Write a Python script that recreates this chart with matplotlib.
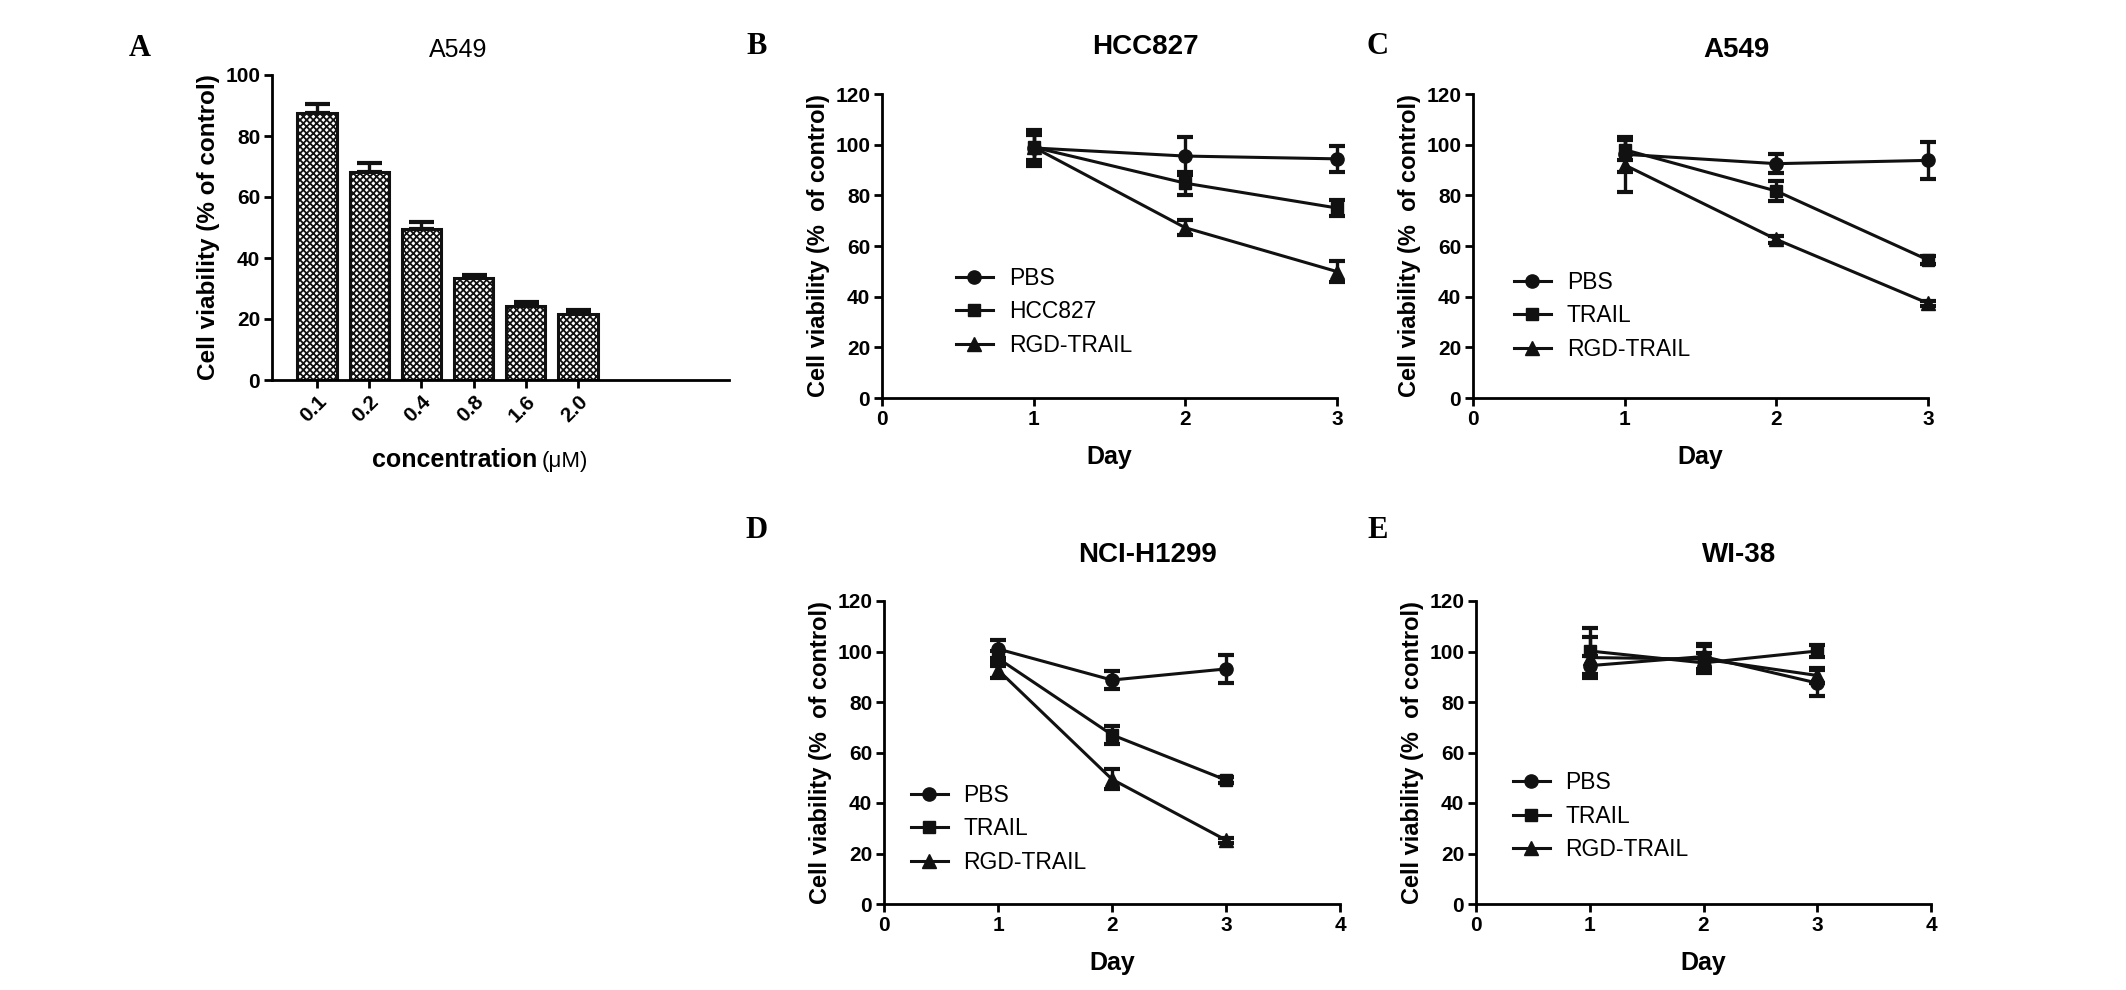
import matplotlib
matplotlib.use("Agg")
import matplotlib.pyplot as plt
import numpy as np
from matplotlib import font_manager

# fonte estreita se existir (o original parece Arial comprimida)
names = {f.name for f in font_manager.fontManager.ttflist}
sans = "Liberation Sans Narrow" if "Liberation Sans Narrow" in names else "Liberation Sans"
plt.rcParams["font.family"] = [sans, "DejaVu Sans"]
plt.rcParams["hatch.linewidth"] = 1.3
regular = ["Liberation Sans", "DejaVu Sans"]

# ---- dados do painel A (barras) ----
conc_labels = ["0.1", "0.2", "0.4", "0.8", "1.6", "2.0"]
a549_bar = [87.4, 68.1, 49.6, 33.5, 24.3, 21.5]
a549_bar_err = [3.2, 3.1, 2.3, 1.0, 1.2, 1.5]

# ---- dados dos paineis B-E (dias 1, 2, 3) ----
days = [1, 2, 3]

hcc_pbs = [98.7, 95.5, 94.4]
hcc_pbs_err = [7.0, 7.5, 5.0]
hcc_trail = [99.0, 84.8, 75.0]
hcc_trail_err = [6.5, 4.5, 3.0]
hcc_rgd = [99.0, 67.2, 49.9]
hcc_rgd_err = [5.0, 3.0, 4.0]

a549_pbs = [96.2, 92.5, 93.8]
a549_pbs_err = [7.0, 3.8, 7.4]
a549_trail = [98.0, 81.7, 54.5]
a549_trail_err = [4.0, 3.8, 1.5]
a549_rgd = [92.0, 62.6, 37.4]
a549_rgd_err = [10.5, 1.5, 1.0]

h1299_pbs = [101.0, 88.7, 93.1]
h1299_pbs_err = [3.5, 3.6, 5.7]
h1299_trail = [97.3, 67.0, 49.1]
h1299_trail_err = [3.0, 3.6, 1.0]
h1299_rgd = [92.7, 49.4, 25.3]
h1299_rgd_err = [3.0, 4.0, 1.0]

wi38_pbs = [94.4, 98.0, 87.5]
wi38_pbs_err = [4.0, 5.0, 5.0]
wi38_trail = [100.2, 95.5, 100.2]
wi38_trail_err = [9.0, 4.0, 2.4]
wi38_rgd = [97.6, 97.0, 90.5]
wi38_rgd_err = [8.0, 5.0, 3.0]

W, H = 2126, 990
fig = plt.figure(figsize=(W / 100, H / 100), dpi=100)


def box(l, r, t, b):
    # pixels -> fracao da figura
    return [l / W, (H - b) / H, (r - l) / W, (b - t) / H]


def style_axes(ax):
    for s in ["top", "right"]:
        ax.spines[s].set_visible(False)
    for s in ["left", "bottom"]:
        ax.spines[s].set_linewidth(2.0)
    ax.tick_params(width=2.0, length=5.5, labelsize=15, pad=3)
    for lab in ax.get_xticklabels() + ax.get_yticklabels():
        lab.set_fontweight("bold")


# ---- Painel A ----
axA = fig.add_axes(box(272, 729, 75, 380))
x = np.arange(len(conc_labels))
axA.bar(x, a549_bar, width=0.75, color="white", edgecolor="#111111",
        linewidth=2.2, hatch="xxxxx", zorder=2)
axA.errorbar(x, a549_bar, yerr=[np.zeros(len(x)), a549_bar_err], fmt="none",
             ecolor="#111111", elinewidth=2.4, capsize=9, capthick=3, zorder=1)
axA.set_xlim(-0.86, 7.89)
axA.set_ylim(0, 100)
axA.set_yticks([0, 20, 40, 60, 80, 100])
axA.set_xticks(x)
axA.set_xticklabels(conc_labels)
style_axes(axA)
plt.setp(axA.get_xticklabels(), rotation=45, ha="right", rotation_mode="anchor")
axA.set_ylabel("Cell viability (% of control)", fontsize=17.5, fontweight="bold", labelpad=4)
t1 = fig.text(372 / W, 1 - 460 / H, "concentration", fontsize=18, fontweight="bold",
              ha="left", va="center")
fig.canvas.draw()
ext = t1.get_window_extent()
fig.text(ext.x1 / W + 4 / W, 1 - 461 / H, "(\u03bcM)", fontsize=16, family=sans,
         ha="left", va="center")
fig.text(458 / W, 1 - 50 / H, "A549", fontsize=18, family=regular, ha="center", va="center")

# ---- Paineis de linhas ----
panels = [
    ("HCC827", box(882, 1337, 94, 398), 3, ["PBS", "HCC827", "RGD-TRAIL"],
     [(hcc_pbs, hcc_pbs_err), (hcc_trail, hcc_trail_err), (hcc_rgd, hcc_rgd_err)],
     (0.163, 0.283), (1145, 47)),
    ("A549", box(1473, 1928, 94, 398), 3, ["PBS", "TRAIL", "RGD-TRAIL"],
     [(a549_pbs, a549_pbs_err), (a549_trail, a549_trail_err), (a549_rgd, a549_rgd_err)],
     (0.09, 0.27), (1736, 50)),
    ("NCI-H1299", box(884, 1340, 601, 904), 4, ["PBS", "TRAIL", "RGD-TRAIL"],
     [(h1299_pbs, h1299_pbs_err), (h1299_trail, h1299_trail_err), (h1299_rgd, h1299_rgd_err)],
     (0.059, 0.248), (1147, 555)),
    ("WI-38", box(1476, 1931, 601, 904), 4, ["PBS", "TRAIL", "RGD-TRAIL"],
     [(wi38_pbs, wi38_pbs_err), (wi38_trail, wi38_trail_err), (wi38_rgd, wi38_rgd_err)],
     (0.081, 0.29), (1739, 555)),
]
markers = ["o", "s", "^"]
msizes = [9.5, 8.5, 10.5]

for title, pos, xmax, labels, series, leg_xy, title_xy in panels:
    ax = fig.add_axes(pos)
    for (vals, err), m, ms, lab in zip(series, markers, msizes, labels):
        ax.errorbar(days, vals, yerr=err, marker=m, ms=ms, color="#111111",
                    lw=2.2, elinewidth=2.4, capsize=5.5, capthick=3, label=lab,
                    clip_on=False)
    ax.set_xlim(0, xmax)
    ax.set_ylim(0, 120)
    ax.set_xticks(range(xmax + 1))
    ax.set_yticks([0, 20, 40, 60, 80, 100, 120])
    style_axes(ax)
    ax.set_xlabel("Day", fontsize=18, fontweight="bold", labelpad=12)
    ax.set_ylabel("Cell viability (%  of control)", fontsize=17, fontweight="bold", labelpad=4)
    handles, labs = ax.get_legend_handles_labels()
    handles = [h[0] for h in handles]
    ax.legend(handles, labs, loc="center left", bbox_to_anchor=leg_xy, frameon=False,
              prop={"family": regular, "size": 16.5}, borderpad=0, borderaxespad=0,
              handlelength=1.6, handletextpad=0.7, labelspacing=0.45)
    fig.text(title_xy[0] / W, 1 - title_xy[1] / H, title, fontsize=20,
             fontweight="bold", ha="center", va="center")

# letras dos paineis
for letter, px, py in [("A", 140, 48), ("B", 757, 47), ("C", 1378, 47),
                       ("D", 757, 530), ("E", 1378, 530)]:
    fig.text(px / W, 1 - py / H, letter, fontsize=22, fontweight="bold",
             family=["Liberation Serif", "DejaVu Serif"], ha="center", va="center")

fig.savefig("out.png", dpi=100)
